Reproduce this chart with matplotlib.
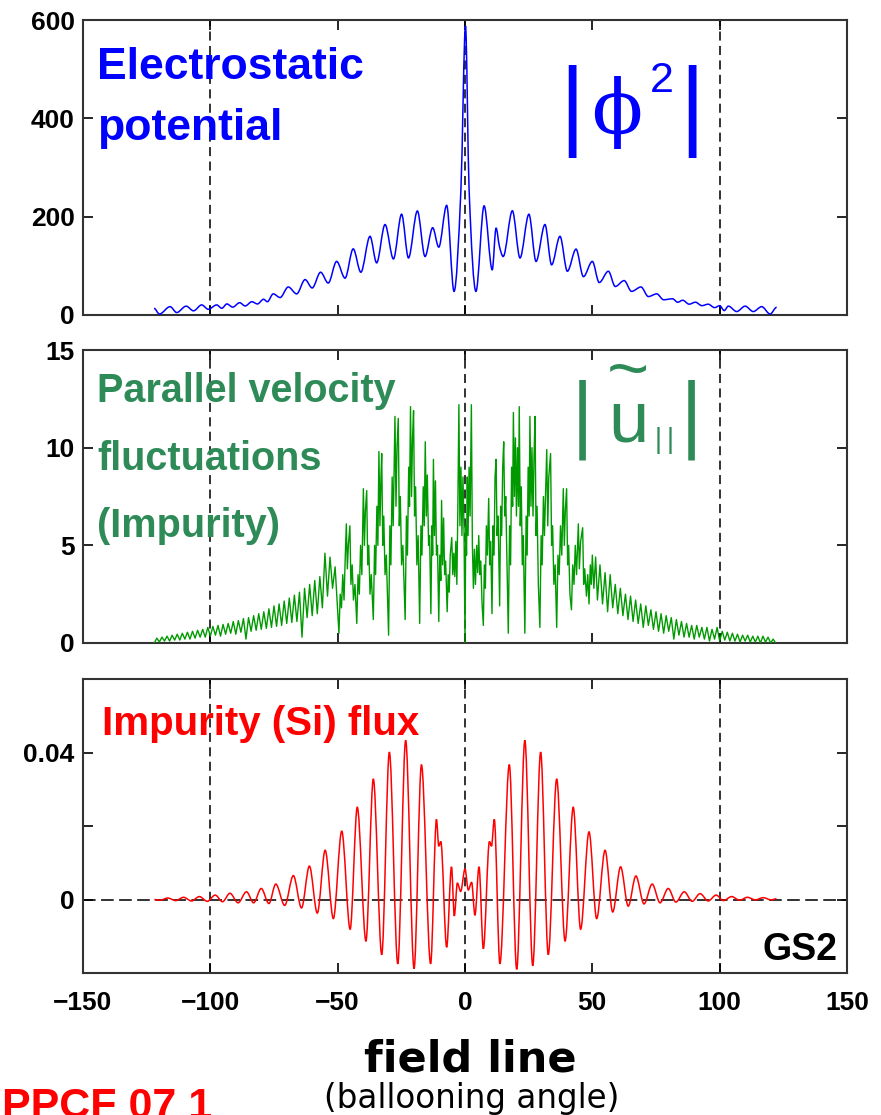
import numpy as np
import matplotlib
matplotlib.use("Agg")
import matplotlib.pyplot as plt
from matplotlib.path import Path
from matplotlib.patches import PathPatch
from matplotlib.ticker import FixedLocator, FixedFormatter

# |phi^2| along the field line: local maxima / minima of the envelope
blue_x = [-122.1, -120.0, -115.8, -113.2, -109.5, -106.6, -103.4, -100.8, -97.5, -95.5,
          -93.5, -91.2, -88.5, -86.3, -83.7, -81.5, -79.1, -77.6, -75.3, -72.6,
          -69.4, -66.1, -62.8, -60.0, -56.7, -53.7, -50.4, -47.1, -43.9, -40.9,
          -37.3, -34.7, -31.4, -28.1, -24.9, -22.2, -18.7, -15.7, -12.7, -10.3,
          -7.2, -4.3, -1.6, 0.2, 1.6, 4.3, 7.5, 10.7, 12.2, 13.5,
          15.0, 18.6, 21.6, 25.1, 27.9, 31.4, 34.0, 37.3, 40.2, 43.6,
          46.5, 50.0, 52.7, 56.3, 59.0, 62.5, 65.4, 69.1, 72.0, 75.3,
          78.0, 81.5, 83.5, 85.5, 88.0, 90.5, 93.0, 95.5, 98.0, 100.0,
          101.8, 103.4, 106.7, 110.0, 113.2, 116.5, 119.8, 122.4]
blue_y = [13.6, 2, 17, 5, 18, 8.5, 20.5, 11.6, 20.5, 13.7,
          22.5, 16, 25, 18.4, 27, 22.5, 32, 27, 43, 35.5,
          57, 43, 72, 55, 87, 65, 109, 75, 134.5, 87,
          160, 106, 184, 114, 205, 116, 211.6, 119, 177.5, 138,
          223, 48, 256, 588, 256, 48, 222, 92, 177, 140,
          119, 212, 116, 205, 109, 184, 102, 160, 89, 134,
          78, 109, 66, 89, 58, 70, 48, 57, 37.5, 43,
          31, 33, 26, 30, 22, 26, 19, 22, 15, 19,
          9, 18, 7, 18, 7, 17, 2, 15.7]

# parallel velocity: noisy tails sampled every unit, resolved core in between
green_left_start = -122
green_left = [0.0, 0.25, 0.05, 0.3, 0.1, 0.35, 0.1, 0.4, 0.15, 0.45,
              0.15, 0.5, 0.2, 0.55, 0.2, 0.6, 0.25, 0.65, 0.3, 0.7,
              0.3, 0.8, 0.35, 0.85, 0.4, 0.9, 0.35, 0.95, 0.45, 1.0,
              0.5, 1.1, 0.45, 1.15, 0.55, 1.25, 0.2, 1.3, 0.6, 1.4,
              0.65, 1.5, 0.7, 1.6, 0.75, 1.75, 0.8, 1.9, 0.85, 2.0,
              0.9, 2.15, 1.0, 2.3, 1.05, 2.45, 1.1, 2.6, 0.3, 2.8,
              1.3, 3.0, 1.4, 3.2, 1.5, 3.4, 1.8, 4.6, 2.4, 4.4,
              2.8, 3.9]
green_core_x = [
    -49.5, -49.0, -48.5, -48.0, -47.5, -47.0, -46.6, -46.2, -45.8, -45.2, -44.8, -44.3, -43.8, -43.2, -42.5,
    -42.0, -41.5, -41.0, -40.5, -39.9, -39.5, -39.1, -38.6, -38.2, -37.8, -37.3, -36.8, -36.0,
    -35.5, -35.1, -34.6, -34.2, -33.8, -33.4, -33.0, -32.7, -32.3, -31.9, -31.4, -30.9, -30.0,
    -29.5, -29.1, -28.6, -28.2, -27.5, -27.1, -26.7, -26.2, -25.8, -25.4, -24.9, -24.4, -23.5,
    -23.0, -22.6, -22.1, -21.8, -21.4, -21.0, -20.6, -20.2, -19.8, -19.4, -18.9, -18.4, -17.8,
    -17.3, -16.9, -16.4, -16.0, -15.6, -15.2, -14.8, -14.3, -13.9, -13.4,
    -13.0, -12.7, -12.4, -12.0, -11.6, -11.2, -10.8, -10.3,
    -9.9, -9.5, -9.2, -8.8, -8.4, -8.0, -7.6, -7.0,
    -6.6, -6.2, -5.8, -5.2, -4.8, -4.4, -4.0, -3.6, -3.2,
    -2.8, -2.4, -2.0, -1.6, -1.2, -0.8, -0.4, 0.0,
    0.3, 0.6, 0.9, 1.2, 1.6, 2.0, 2.5, 2.9, 3.3, 3.7, 4.1,
    4.6, 5.0, 5.4, 5.8, 6.2, 6.7, 7.2,
    7.6, 8.0, 8.4, 8.8, 9.3, 9.7, 10.1, 10.6,
    11.0, 11.4, 11.8, 12.2, 12.6, 13.0, 13.6, 14.0, 14.4, 14.8, 15.2, 15.6, 16.0, 16.5, 17.0,
    17.5, 17.9, 18.3, 18.7, 19.0, 19.4, 19.8, 20.2, 20.6, 21.0, 21.3, 21.7, 22.1, 22.5, 22.9, 23.5,
    24.0, 24.4, 24.8, 25.2, 25.5, 25.9, 26.3, 26.7, 27.1, 27.5, 27.9, 28.3, 28.8, 29.4,
    29.9, 30.3, 30.8, 31.2, 32.1, 32.5, 32.9, 33.6, 34.0, 34.4, 34.9, 35.4, 36.0,
    36.5, 37.0, 37.5, 38.0, 38.6, 39.0, 39.4, 39.9, 40.3, 40.7, 41.2, 41.8,
    42.3, 42.8, 43.3, 43.8, 44.5, 44.9, 45.4, 46.2, 46.6, 47.0, 47.7,
    48.2, 48.7, 49.2, 49.6, 50.0, 50.6, 51.3]
green_core_y = [
    0.5, 2.5, 1.8, 3.5, 2.2, 4.5, 6.1, 3.8, 5.0, 6.0, 3.0, 4.0, 2.2, 3.0, 1.0,
    3.5, 2.5, 5.0, 3.5, 7.9, 5.0, 6.8, 7.8, 4.0, 5.0, 2.5, 3.5, 1.2,
    5.0, 3.5, 7.0, 5.0, 9.8, 6.0, 8.5, 9.7, 5.0, 6.5, 3.5, 4.5, 0.4,
    6.0, 4.0, 8.5, 6.0, 11.6, 7.0, 10.0, 11.5, 6.0, 7.5, 4.0, 5.0, 1.2,
    6.5, 4.5, 9.0, 7.0, 12.1, 7.5, 10.5, 11.9, 6.5, 8.0, 4.0, 5.5, 1.0,
    6.0, 4.5, 8.0, 6.0, 10.3, 6.5, 8.6, 5.0, 5.5, 1.5,
    6.0, 4.5, 9.4, 5.5, 8.3, 4.5, 5.0, 1.1,
    4.5, 3.2, 7.3, 4.0, 6.4, 3.5, 4.2, 1.6,
    3.5, 2.6, 4.5, 5.4, 3.5, 4.6, 3.4, 5.2, 3.0,
    7.0, 12.2, 6.0, 9.0, 5.5, 8.5, 6.0, 0.0,
    6.0, 4.5, 8.5, 5.5, 9.0, 6.5, 12.2, 5.0, 2.8, 4.8, 3.0,
    5.0, 3.6, 5.5, 3.5, 4.2, 2.0, 0.9,
    4.0, 2.8, 6.0, 4.5, 7.4, 4.0, 5.2, 1.5,
    6.0, 4.5, 8.5, 9.4, 5.5, 6.5, 1.9, 7.0, 5.5, 9.0, 10.3, 6.5, 7.5, 4.0, 0.5,
    6.0, 4.0, 9.0, 7.0, 11.8, 7.5, 10.5, 6.5, 10.0, 7.0, 12.1, 6.0, 8.0, 4.0, 5.5, 0.5,
    6.5, 4.5, 9.0, 6.5, 11.6, 7.0, 10.0, 6.5, 9.5, 11.6, 5.5, 7.0, 3.0, 0.8,
    5.5, 4.0, 7.5, 5.5, 9.9, 6.0, 8.5, 9.7, 5.0, 6.0, 3.0, 4.0, 0.8,
    4.5, 3.5, 6.0, 4.5, 7.9, 5.0, 6.8, 7.9, 4.0, 5.0, 2.5, 1.7,
    4.0, 3.0, 5.0, 3.5, 6.1, 3.8, 5.2, 5.9, 3.0, 3.8, 2.4,
    3.5, 2.0, 4.0, 3.0, 4.5, 2.8, 4.4]
green_right_start = 52
green_right = [2.2, 4.0, 2.0, 3.6, 1.6, 3.5, 1.8, 3.0, 1.5, 2.8,
               1.4, 2.5, 1.2, 2.4, 1.1, 2.2, 1.0, 2.0, 0.8, 1.9,
               0.9, 1.7, 0.7, 1.6, 0.6, 1.5, 0.5, 1.4, 0.6, 1.3,
               0.2, 1.2, 0.4, 1.1, 0.3, 1.0, 0.3, 0.9, 0.2, 0.9,
               0.3, 0.8, 0.2, 0.8, 0.1, 0.7, 0.2, 0.8, 0.1, 0.6,
               0.15, 0.55, 0.1, 0.5, 0.1, 0.45, 0.05, 0.4, 0.1, 0.4,
               0.05, 0.35, 0.05, 0.35, 0.0, 0.35, 0.05, 0.3, 0.0, 0.2,
               0.0]

# impurity flux: alternating extrema
red_x = [-122.0, -119.8, -116.7, -113.6, -110.5, -107.4, -104.3, -101.2, -98.1, -95.2,
         -92.3, -89.1, -85.8, -83.0, -80.0, -77.0, -74.3, -70.8, -67.4, -64.2,
         -61.1, -58.0, -54.9, -51.7, -48.4, -45.1, -42.3, -38.9, -36.0, -32.7,
         -29.7, -26.4, -23.3, -20.0, -17.1, -13.5, -11.2, -10.3, -9.5, -7.2,
         -5.3, -4.2, -3.0, -1.7, 0.0, 1.3, 2.6, 3.9, 5.5, 7.2,
         9.6, 10.4, 11.5, 13.7, 17.4, 20.3, 23.5, 26.6, 29.7, 32.7,
         36.0, 39.3, 42.5, 45.4, 48.7, 51.7, 55.0, 58.0, 61.1, 64.1,
         67.1, 70.3, 73.5, 76.6, 79.8, 82.8, 86.1, 89.2, 92.3, 95.5,
         98.6, 101.5, 104.7, 107.8, 110.9, 114.0, 117.1, 120.2, 122.3]
red_y = [0.0, -0.0002, 0.0004, -0.0003, 0.0006, -0.0004, 0.0008, -0.0005, 0.0012, -0.0006,
         0.0017, -0.0009, 0.0021, -0.0009, 0.0030, -0.0011, 0.0042, -0.0016, 0.0065, -0.0023,
         0.0091, -0.0037, 0.0134, -0.0052, 0.0186, -0.0081, 0.0251, -0.0113, 0.0328, -0.0150,
         0.0401, -0.0175, 0.0433, -0.0188, 0.0367, -0.0175, 0.0218, 0.0145, 0.0158, -0.0130,
         0.0089, -0.0045, 0.0045, 0.0022, 0.0083, 0.0026, 0.0047, -0.0043, 0.0089, -0.0134,
         0.0158, 0.0145, 0.0218, -0.0175, 0.0367, -0.0190, 0.0433, -0.0180, 0.0401, -0.0150,
         0.0328, -0.0113, 0.0251, -0.0081, 0.0184, -0.0052, 0.0134, -0.0034, 0.0089, -0.0018,
         0.0064, -0.0012, 0.0042, -0.0009, 0.0030, -0.0007, 0.0021, -0.0005, 0.0016, -0.0004,
         0.0012, -0.0003, 0.0008, -0.0002, 0.0006, -0.0001, 0.0005, -0.0001, 0.0002]

x_ticks = [-150, -100, -50, 0, 50, 100, 150]
guide_x = [-100, 0, 100]

W, H = 881, 1115
plt.rcParams["font.family"] = ["Liberation Sans", "DejaVu Sans"]
plt.rcParams["font.weight"] = "bold"

BLUE = "#0000ff"
GREEN_TXT = "#2e8b57"
GREEN_LINE = "#009a00"
RED = "#ff0000"
DASH = (0, (5, 3))


def fx(px):
    return px / W


def fy(py):
    return 1 - py / H


def smooth_path(xs, ys):
    """Cubic curve through the extrema, flat at every turning point."""
    xs = np.asarray(xs, float)
    ys = np.asarray(ys, float)
    m = np.zeros(len(xs))
    for i in range(1, len(xs) - 1):
        if (ys[i] - ys[i - 1]) * (ys[i + 1] - ys[i]) > 0:
            m[i] = (ys[i + 1] - ys[i - 1]) / (xs[i + 1] - xs[i - 1])
    verts = [(xs[0], ys[0])]
    codes = [Path.MOVETO]
    for i in range(len(xs) - 1):
        h = (xs[i + 1] - xs[i]) / 3
        verts += [(xs[i] + h, ys[i] + m[i] * h),
                  (xs[i + 1] - h, ys[i + 1] - m[i + 1] * h),
                  (xs[i + 1], ys[i + 1])]
        codes += [Path.CURVE4] * 3
    return Path(verts, codes)


def style_axes(ax, bottom_labels=False):
    ax.set_xlim(-150, 150)
    ax.xaxis.set_major_locator(FixedLocator(x_ticks))
    ax.tick_params(direction="in", top=True, right=True, length=7, width=1.2,
                   labelsize=19, colors="black")
    ax.tick_params(axis="x", pad=13, labelbottom=bottom_labels)
    ax.tick_params(axis="y", pad=6)
    for sp in ax.spines.values():
        sp.set_linewidth(1.5)
        sp.set_color("#333333")
    for gx in guide_x:
        ax.axvline(gx, color="#222222", lw=1.3, ls=DASH, zorder=1)


fig = plt.figure(figsize=(W / 100, H / 100), dpi=100)
ax1 = fig.add_axes([fx(83), fy(315), fx(847) - fx(83), fy(20) - fy(315)])
ax2 = fig.add_axes([fx(83), fy(643), fx(847) - fx(83), fy(350) - fy(643)])
ax3 = fig.add_axes([fx(83), fy(973), fx(847) - fx(83), fy(679) - fy(973)])

# top: electrostatic potential
style_axes(ax1)
ax1.set_ylim(0, 600)
ax1.set_yticks([0, 200, 400, 600])
ax1.add_patch(PathPatch(smooth_path(blue_x, blue_y), fill=False, edgecolor=BLUE, lw=1.1, zorder=3))

# middle: parallel velocity fluctuations
style_axes(ax2)
ax2.set_ylim(0, 15)
ax2.set_yticks([0, 5, 10, 15])
gx = np.concatenate([green_left_start + np.arange(len(green_left)),
                     green_core_x,
                     green_right_start + np.arange(len(green_right))])
gy = np.concatenate([green_left, green_core_y, green_right])
ax2.plot(gx, gy, color=GREEN_LINE, lw=1.0, zorder=3)

# bottom: impurity flux
style_axes(ax3, bottom_labels=True)
ax3.set_ylim(-0.02, 0.06)
ax3.yaxis.set_major_locator(FixedLocator([0, 0.02, 0.04]))
ax3.yaxis.set_major_formatter(FixedFormatter(["0", "", "0.04"]))
ax3.axhline(0, color="#222222", lw=1.3, ls=(0, (7, 3)), zorder=1)
ax3.add_patch(PathPatch(smooth_path(red_x, red_y), fill=False, edgecolor=RED, lw=1.1, zorder=3))

# panel annotations (multi-line texts are anchored on their last baseline)
fig.text(fx(97), fy(140), "Electrostatic\npotential", color=BLUE, fontsize=32,
         fontweight="bold", va="baseline", ha="left", linespacing=1.62)
fig.text(fx(572), fy(136), "|", color=BLUE, fontsize=67, family="DejaVu Sans",
         fontweight="normal", ha="center", va="baseline")
fig.text(fx(617), fy(133), "\u03d5", color=BLUE, fontsize=54, family="DejaVu Serif",
         fontweight="normal", ha="center", va="baseline")
fig.text(fx(650), fy(92), "2", color=BLUE, fontsize=31, family="Liberation Sans",
         fontweight="normal", ha="left", va="baseline")
fig.text(fx(692), fy(136), "|", color=BLUE, fontsize=67, family="DejaVu Sans",
         fontweight="normal", ha="center", va="baseline")

fig.text(fx(97), fy(537), "Parallel velocity\nfluctuations\n(Impurity)", color=GREEN_TXT,
         fontsize=28.5, fontweight="bold", va="baseline", ha="left", linespacing=1.98)
fig.text(fx(582), fy(441), "|", color=GREEN_TXT, fontsize=58, family="DejaVu Sans",
         fontweight="normal", ha="center", va="baseline")
# tilde stacked over the u as one two-line label
fig.text(fx(628), fy(442), "~\nu", color=GREEN_TXT, fontsize=52, fontweight="normal",
         ha="center", va="baseline", multialignment="center", linespacing=0.66)
fig.text(fx(658), fy(447), "|", color=GREEN_TXT, fontsize=19, family="DejaVu Sans",
         fontweight="normal", ha="center", va="baseline")
fig.text(fx(670), fy(447), "|", color=GREEN_TXT, fontsize=19, family="DejaVu Sans",
         fontweight="normal", ha="center", va="baseline")
fig.text(fx(691), fy(441), "|", color=GREEN_TXT, fontsize=58, family="DejaVu Sans",
         fontweight="normal", ha="center", va="baseline")

fig.text(fx(102), fy(735), "Impurity (Si) flux", color=RED, fontsize=29,
         fontweight="bold", va="baseline", ha="left")
fig.text(fx(838), fy(960), "GS2", color="black", fontsize=27, fontweight="bold",
         va="baseline", ha="right")

# axis caption and tag
fig.text(fx(470), fy(1072), "field line", color="black", fontsize=31,
         family="DejaVu Sans", fontweight="bold", ha="center", va="baseline")
fig.text(fx(472), fy(1108), "(ballooning angle)", color="black", fontsize=23.5,
         family="DejaVu Sans", fontweight="normal", ha="center", va="baseline")
fig.text(fx(2), fy(1118), "PPCF 07 1", color=RED, fontsize=31, fontweight="bold",
         ha="left", va="baseline")

fig.savefig("out.png", dpi=100)
